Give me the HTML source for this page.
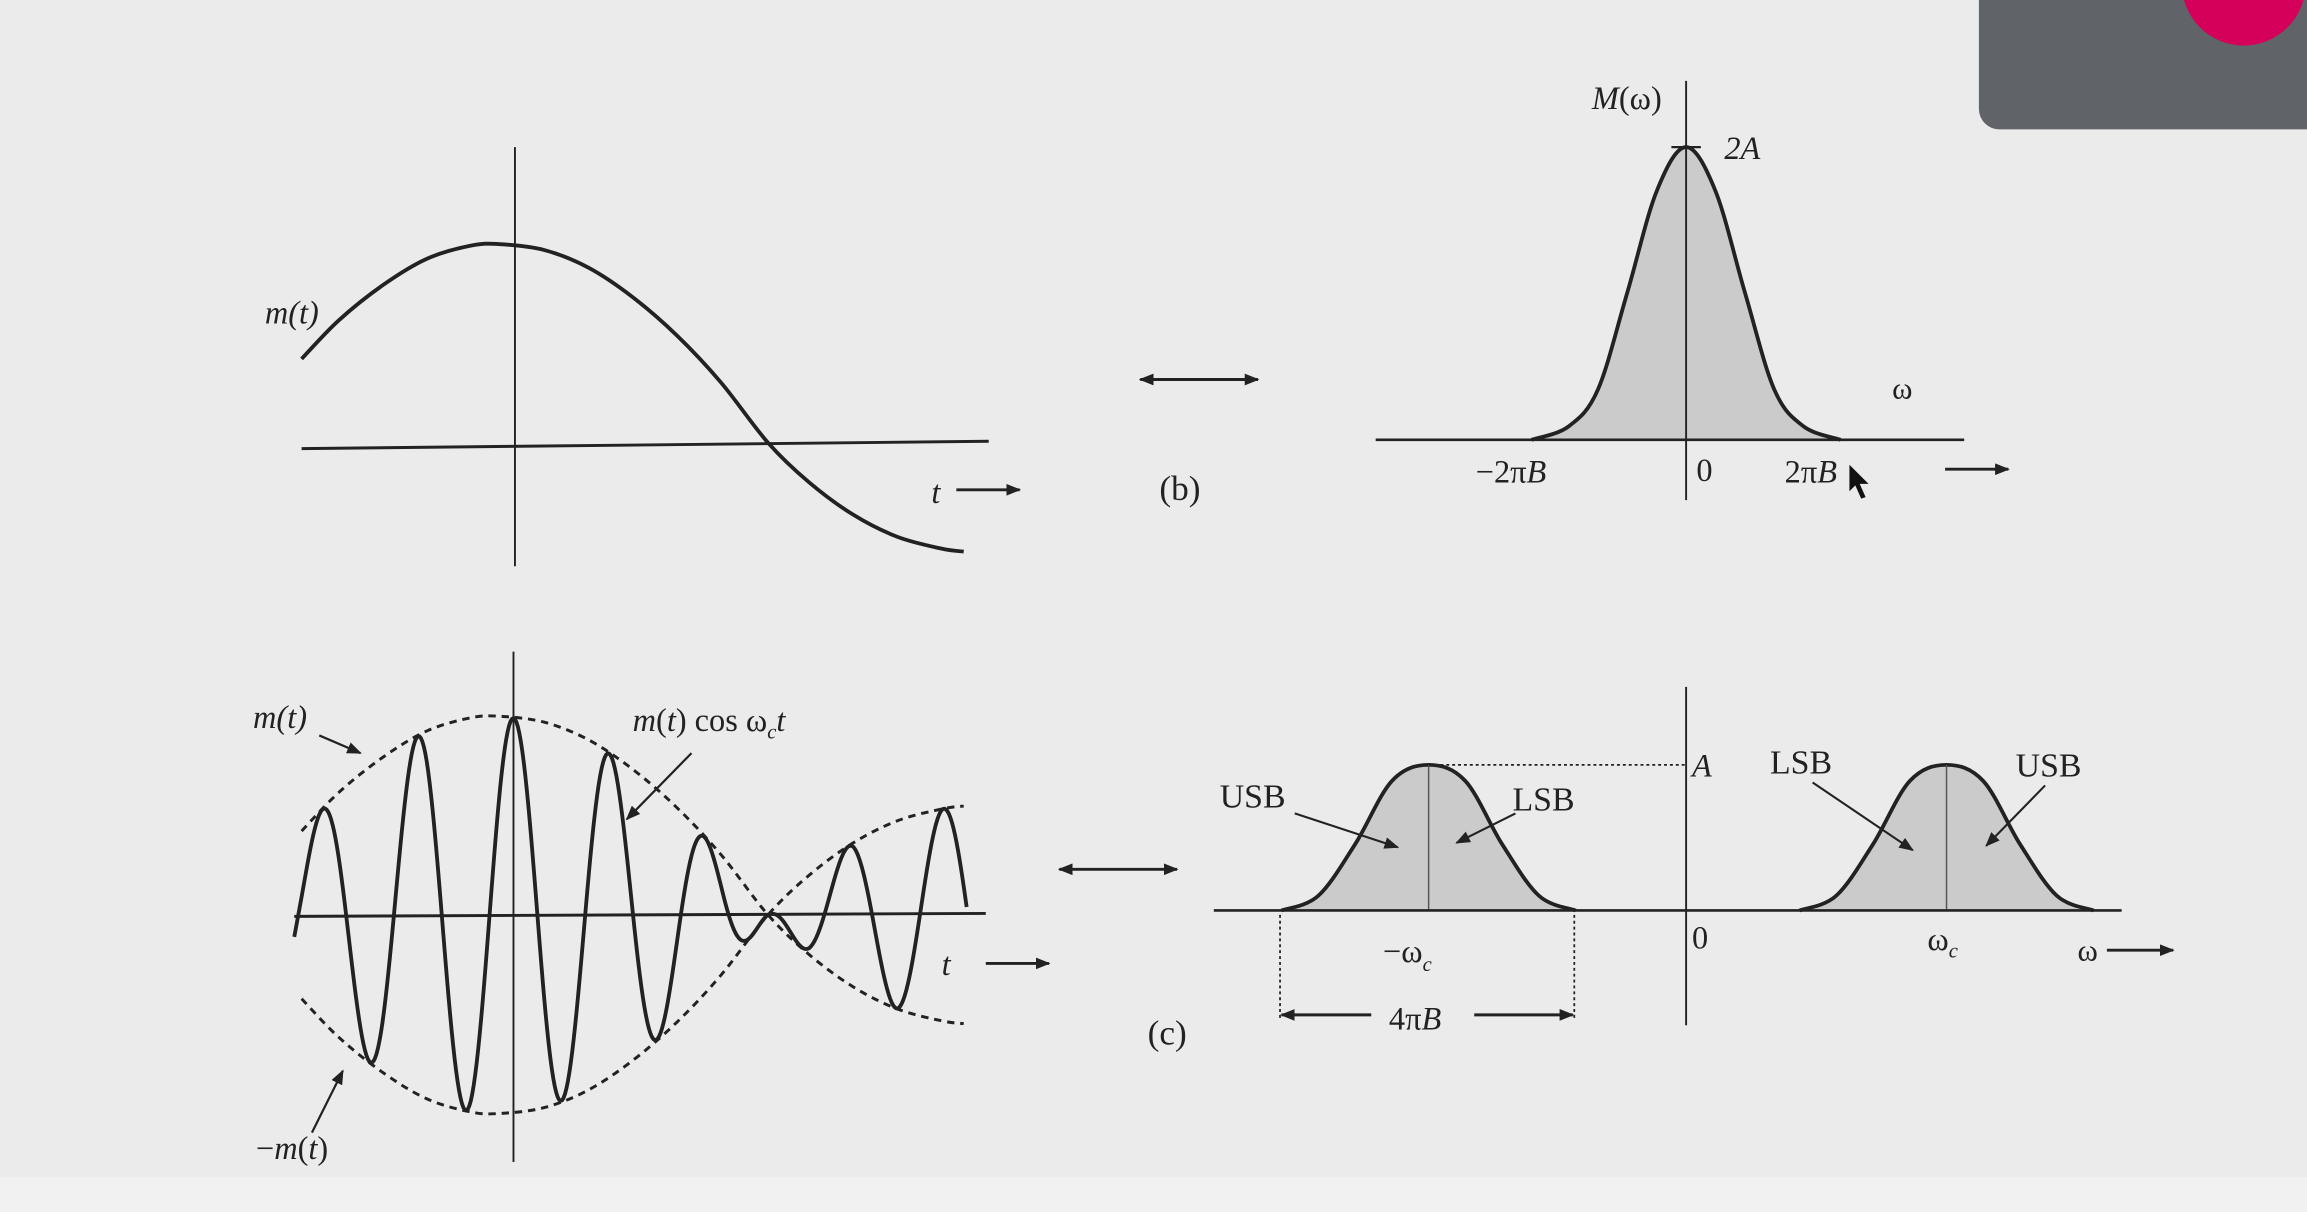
<!DOCTYPE html>
<html><head><meta charset="utf-8"><style>
html,body{margin:0;padding:0;background:#ebebeb;overflow:hidden}
svg{display:block}
text{font-family:"Liberation Serif",serif;fill:#222}
</style></head><body>
<svg id="fig" width="2307" height="1212" viewBox="0 0 1568 824" preserveAspectRatio="none" xmlns="http://www.w3.org/2000/svg">
<defs>
<marker id="ah" markerWidth="10" markerHeight="8" refX="9" refY="4" orient="auto" markerUnits="userSpaceOnUse"><path d="M0,0 L10,4 L0,8 Z" fill="#222"/></marker>
<marker id="ahs" markerWidth="10" markerHeight="8" refX="1" refY="4" orient="auto" markerUnits="userSpaceOnUse"><path d="M10,0 L0,4 L10,8 Z" fill="#222"/></marker>
</defs>
<rect x="0" y="0" width="1568" height="824" fill="#ebebeb"/>
<rect x="0" y="800" width="1568" height="24" fill="#f1f1f1"/>
<rect x="1345" y="-20" width="240" height="108" rx="14" fill="#606368"/>
<circle cx="1525" cy="-11" r="42" fill="#d4005a"/>
<g id="plots" stroke="#222" fill="none"></g>
<g id="labels">
<text x="180" y="220" font-size="22" font-style="italic">m(t)</text>
<text x="633" y="342" font-size="22" font-style="italic">t</text>
<text x="788" y="340" font-size="24">(b)</text>
<text x="1082" y="74" font-size="22"><tspan font-style="italic">M</tspan>(ω)</text>
<text x="1172" y="108" font-size="22" font-style="italic">2A</text>
<text x="1286" y="271" font-size="21">ω</text>
<text x="1003" y="328" font-size="22">−2π<tspan font-style="italic">B</tspan></text>
<text x="1153" y="327" font-size="22">0</text>
<text x="1213" y="328" font-size="22">2π<tspan font-style="italic">B</tspan></text>
<path d="M1257,316 L1257,334 L1261,330 L1265,339 L1268,338 L1264,329 L1270,329 Z" fill="#111"/>
<text x="172" y="495" font-size="22" font-style="italic">m(t)</text>
<text x="430" y="497" font-size="22"><tspan font-style="italic">m</tspan>(<tspan font-style="italic">t</tspan>) cos ω<tspan font-size="14" dy="5" font-style="italic">c</tspan><tspan dy="-5" font-style="italic">t</tspan></text>
<text x="174" y="788" font-size="22">−<tspan font-style="italic">m</tspan>(<tspan font-style="italic">t</tspan>)</text>
<text x="640" y="663" font-size="22" font-style="italic">t</text>
<text x="780" y="710" font-size="24">(c)</text>
<text x="1150" y="528" font-size="22" font-style="italic">A</text>
<text x="829" y="549" font-size="23">USB</text>
<text x="1028" y="551" font-size="23">LSB</text>
<text x="1203" y="526" font-size="23">LSB</text>
<text x="1370" y="528" font-size="23">USB</text>
<text x="940" y="654" font-size="22">−ω<tspan font-size="14" dy="6" font-style="italic">c</tspan></text>
<text x="1150" y="645" font-size="22">0</text>
<text x="1310" y="646" font-size="22">ω<tspan font-size="14" dy="5" font-style="italic">c</tspan></text>
<text x="1412" y="653" font-size="21">ω</text>
<text x="944" y="700" font-size="22">4π<tspan font-style="italic">B</tspan></text>
</g>
</svg>
<script>
// message signal samples (x pixel position along time axis, m(t) in display units above axis)
const timeSamples = [205,230,260,290,320,340,370,400,430,460,490,522,550,580,610,640,655];
const messageValues = [57,83,107,125,134,135,131,119,99,73,41,0,-27,-49,-64,-72,-74];
// carrier
const carrierPeriod = 65;
const carrierPhaseRef = 349;
// baseband spectrum M(w): offsets from 0 and magnitudes
const spectrumOffsets = [-105,-80,-60,-40,-20,0,20,40,60,80,105];
const spectrumValues = [0,9,34,100,169,199,169,100,34,9,0];
// DSB spectrum bumps
const bumpOffsets = [-100,-75,-50,-25,0,25,50,75,100];
const bumpValues = [0,10,45,88,99,88,45,10,0];
const bumpCenters = [-175,177];

const NS='http://www.w3.org/2000/svg';
const G=document.getElementById('plots');
function mk(tag,attrs,parent){const e=document.createElementNS(NS,tag);for(const k in attrs)e.setAttribute(k,attrs[k]);(parent||G).appendChild(e);return e;}
function smooth(pts){let d='M'+pts[0][0]+','+pts[0][1];for(let i=0;i<pts.length-1;i++){const p0=pts[Math.max(i-1,0)],p1=pts[i],p2=pts[i+1],p3=pts[Math.min(i+2,pts.length-1)];d+=' C'+(p1[0]+(p2[0]-p0[0])/6)+','+(p1[1]+(p2[1]-p0[1])/6)+' '+(p2[0]-(p3[0]-p1[0])/6)+','+(p2[1]-(p3[1]-p1[1])/6)+' '+p2[0]+','+p2[1];}return d;}
function interpM(x){if(x<=timeSamples[0])return messageValues[0];for(let i=0;i<timeSamples.length-1;i++){if(x<=timeSamples[i+1]){const f=(x-timeSamples[i])/(timeSamples[i+1]-timeSamples[i]);return messageValues[i]+f*(messageValues[i+1]-messageValues[i]);}}return messageValues[messageValues.length-1];}

// axis functions
const yB=v=>301-v; const yC=v=>622-v;
const xSpecB=o=>1146+o; const ySpecB=v=>299-v;
const xSpecC=(c,o)=>1146+c+o; const ySpecC=v=>619-v;

let e;
// ---- panel b left
e=mk('line',{x1:350,y1:100,x2:350,y2:385,'stroke-width':1.3});

e=mk('line',{x1:205,y1:305,x2:672,y2:300,'stroke-width':2});

e=mk('path',{d:smooth(timeSamples.map((t,i)=>[t,yB(messageValues[i])])),'stroke-width':2.6});

e=mk('line',{x1:650,y1:333,x2:693,y2:333,'stroke-width':2,'marker-end':'url(#ah)'});

e=mk('line',{x1:775,y1:258,x2:855,y2:258,'stroke-width':2,'marker-end':'url(#ah)','marker-start':'url(#ahs)'});


// ---- panel b spectrum
const specPts=spectrumOffsets.map((o,i)=>[xSpecB(o),ySpecB(spectrumValues[i])]);
e=mk('path',{d:smooth(specPts)+' Z',fill:'#cbcbcb',stroke:'none'});

e=mk('line',{x1:935,y1:299,x2:1335,y2:299,'stroke-width':1.8});

e=mk('line',{x1:1146,y1:55,x2:1146,y2:340,'stroke-width':1.3});

e=mk('path',{d:smooth(specPts),'stroke-width':2.6});

e=mk('line',{x1:1136,y1:ySpecB(199),x2:1156,y2:ySpecB(199),'stroke-width':1.5});

e=mk('line',{x1:1322,y1:319,x2:1365,y2:319,'stroke-width':2,'marker-end':'url(#ah)'});


// ---- panel c left
e=mk('line',{x1:349,y1:443,x2:349,y2:790,'stroke-width':1.3});

e=mk('line',{x1:200,y1:623,x2:670,y2:621,'stroke-width':2});

e=mk('path',{d:smooth(timeSamples.map((t,i)=>[t,yC(messageValues[i])])),'stroke-width':2,'stroke-dasharray':'5,4'});

e=mk('path',{d:smooth(timeSamples.map((t,i)=>[t,yC(-messageValues[i])])),'stroke-width':2,'stroke-dasharray':'5,4'});

const modPts=[];for(let x=200;x<=657;x+=1){modPts.push([x,yC(interpM(x)*Math.cos(2*Math.PI*(x-carrierPhaseRef)/carrierPeriod))]);}
e=mk('polyline',{points:modPts.map(p=>p.join(',')).join(' '),'stroke-width':2.6,'stroke-linejoin':'round'});

e=mk('line',{x1:217,y1:500,x2:245,y2:512,'stroke-width':1.5,'marker-end':'url(#ah)'});

e=mk('line',{x1:470,y1:512,x2:426,y2:557,'stroke-width':1.5,'marker-end':'url(#ah)'});

e=mk('line',{x1:212,y1:770,x2:233,y2:728,'stroke-width':1.5,'marker-end':'url(#ah)'});

e=mk('line',{x1:670,y1:655,x2:713,y2:655,'stroke-width':2,'marker-end':'url(#ah)'});

e=mk('line',{x1:720,y1:591,x2:800,y2:591,'stroke-width':2,'marker-end':'url(#ah)','marker-start':'url(#ahs)'});


// ---- panel c spectrum
bumpCenters.forEach((c,k)=>{
  const pts=bumpOffsets.map((o,i)=>[xSpecC(c,o),ySpecC(bumpValues[i])]);
  let f=mk('path',{d:smooth(pts)+' Z',fill:'#cbcbcb',stroke:'none'});
  
  let l=mk('path',{d:smooth(pts),'stroke-width':2.6});
  
  let v=mk('line',{x1:xSpecC(c,0),y1:ySpecC(99),x2:xSpecC(c,0),y2:ySpecC(0),'stroke-width':1,stroke:'#555'});
  
});
e=mk('line',{x1:825,y1:619,x2:1442,y2:619,'stroke-width':1.8});

e=mk('line',{x1:1146,y1:467,x2:1146,y2:697,'stroke-width':1.3});

e=mk('line',{x1:xSpecC(bumpCenters[0],0),y1:ySpecC(99),x2:1146,y2:ySpecC(99),'stroke-width':1.2,'stroke-dasharray':'2,2'});

e=mk('line',{x1:870,y1:622,x2:870,y2:692,'stroke-width':1.2,'stroke-dasharray':'2,2'});

e=mk('line',{x1:1070,y1:622,x2:1070,y2:692,'stroke-width':1.2,'stroke-dasharray':'2,2'});

e=mk('line',{x1:932,y1:690,x2:871,y2:690,'stroke-width':2,'marker-end':'url(#ah)'});

e=mk('line',{x1:1002,y1:690,x2:1069,y2:690,'stroke-width':2,'marker-end':'url(#ah)'});

e=mk('line',{x1:880,y1:553,x2:950,y2:576,'stroke-width':1.4,'marker-end':'url(#ah)'});

e=mk('line',{x1:1030,y1:553,x2:990,y2:573,'stroke-width':1.4,'marker-end':'url(#ah)'});

e=mk('line',{x1:1232,y1:532,x2:1300,y2:578,'stroke-width':1.4,'marker-end':'url(#ah)'});

e=mk('line',{x1:1390,y1:534,x2:1350,y2:575,'stroke-width':1.4,'marker-end':'url(#ah)'});

e=mk('line',{x1:1432,y1:646,x2:1477,y2:646,'stroke-width':2,'marker-end':'url(#ah)'});

</script>
</body></html>
